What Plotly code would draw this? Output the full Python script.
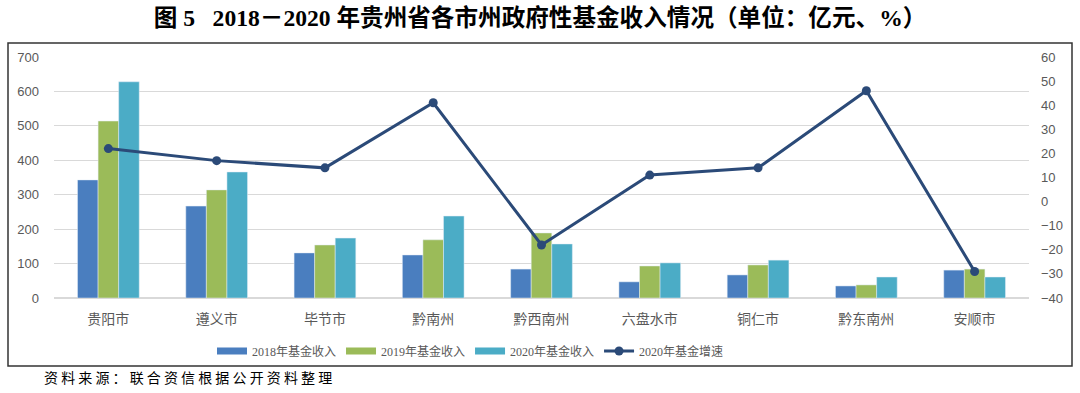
import plotly.graph_objects as go

categories = ["贵阳市", "遵义市", "毕节市", "黔南州", "黔西南州", "六盘水市", "铜仁市", "黔东南州", "安顺市"]
income_2018 = [343, 267, 131, 125, 84, 47, 67, 35, 81]
income_2019 = [514, 314, 154, 169, 189, 93, 96, 38, 84]
income_2020 = [628, 366, 174, 238, 157, 102, 110, 61, 61]
growth_2020 = [22, 17, 14, 41, -18, 11, 14, 46, -29]

left_ticks = [0, 100, 200, 300, 400, 500, 600, 700]
right_ticks = [-40, -30, -20, -10, 0, 10, 20, 30, 40, 50, 60]

series_names = ["2018年基金收入", "2019年基金收入", "2020年基金收入", "2020年基金增速"]
colors = ["#4a7ebf", "#9bbb59", "#4bacc6", "#2b4a78"]

font_cjk = "Noto Sans CJK SC, sans-serif"
font_leg = "Liberation Serif, Noto Sans CJK SC, serif"
tick_color = "#595959"

fig = go.Figure()
for vals, name, col in zip([income_2018, income_2019, income_2020], series_names[:3], colors[:3]):
    fig.add_trace(go.Bar(x=categories, y=vals, name=name, marker_color=col, showlegend=False))
# legend keys drawn as wide bars (no data marks)
for name, col in zip(series_names[:3], colors[:3]):
    fig.add_trace(go.Scatter(x=[None], y=[None], mode="lines", name=name,
                             line=dict(color=col, width=7), showlegend=True))
fig.add_trace(go.Scatter(x=categories, y=growth_2020, name=series_names[3], yaxis="y2",
                         mode="lines+markers", line=dict(color=colors[3], width=3),
                         marker=dict(color=colors[3], size=9)))

fig.update_layout(
    width=1080, height=393,
    paper_bgcolor="white", plot_bgcolor="white",
    margin=dict(l=54, r=51, t=57, b=95),
    barmode="group", bargap=0.43, bargroupgap=0,
    showlegend=True,
    legend=dict(orientation="h", x=(212 - 54) / 975, xanchor="left", y=-53/241, yanchor="middle",
                font=dict(family=font_leg, size=12, color=tick_color),
                traceorder="normal", itemwidth=30, bgcolor="rgba(0,0,0,0)"),
    xaxis=dict(showgrid=False, showline=False, ticks="", ticklabelstandoff=11,
               tickfont=dict(family=font_cjk, size=14, color=tick_color)),
    yaxis=dict(range=[0, 700], tickvals=left_ticks, showgrid=True, gridcolor="#d9d9d9",
               zeroline=True, zerolinecolor="#d9d9d9", showline=False, ticks="",
               ticklabelstandoff=14,
               tickfont=dict(family="Liberation Sans, sans-serif", size=13, color=tick_color)),
    yaxis2=dict(range=[-40, 60], tickvals=right_ticks, overlaying="y", side="right",
                showgrid=False, zeroline=False, showline=False, ticks="",
                ticklabelstandoff=11,
                tickfont=dict(family="Liberation Sans, sans-serif", size=13, color=tick_color)),
    title=dict(text="<b>图 5   2018－2020 年贵州省各市州政府性基金收入情况（单位：亿元、%）</b>",
               x=0.5, xanchor="center", y=1 - 18/393, yanchor="middle",
               font=dict(family="Liberation Serif, Noto Sans CJK SC, serif", size=23.6, color="black")),
    shapes=[dict(type="rect", xref="paper", yref="paper",
                 x0=-46/975, x1=1018/975, y0=-68/241, y1=255/241,
                 line=dict(color="#333333", width=1.5), fillcolor="rgba(0,0,0,0)", layer="below")],
    annotations=[dict(text="资 料 来 源 ： 联 合 资 信 根 据 公 开 资 料 整 理", xref="paper", yref="paper",
                      x=-12/975, y=-79/241, xanchor="left", yanchor="middle", showarrow=False,
                      font=dict(family="Noto Sans CJK SC, sans-serif", size=14, color="black"))],
)

fig.write_html("out.html", config={"displayModeBar": False},
               post_script="document.body.style.margin='0';")
